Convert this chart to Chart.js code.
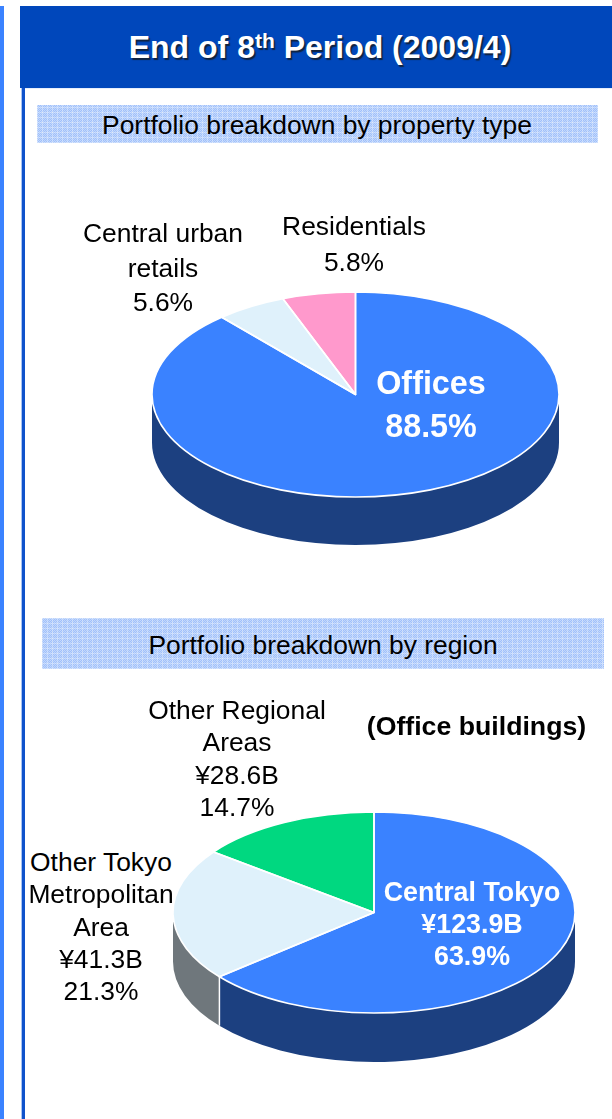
<!DOCTYPE html>
<html>
<head>
<meta charset="utf-8">
<script src="https://cdn.jsdelivr.net/npm/chart.js@4"></script>
<style>
html,body{margin:0;padding:0;background:#fff;width:612px;height:1119px;overflow:hidden}
body{position:relative;font-family:"Liberation Sans",Arial,sans-serif;color:#000}
.abs{position:absolute}
canvas{position:absolute;display:block}
.t{position:absolute;white-space:nowrap;transform:translate(-50%,-50%);line-height:1;z-index:5}
.band{position:absolute;background-color:#b4cefb;
 background-image:repeating-linear-gradient(0deg,rgba(255,255,255,.28) 0 1px,transparent 1px 5px),
 repeating-linear-gradient(90deg,rgba(255,255,255,.28) 0 1px,transparent 1px 5px),
 repeating-conic-gradient(rgba(120,165,250,.35) 0 25%,rgba(255,255,255,.18) 0 50%);
 background-size:auto,auto,2px 2px}
</style>
</head>
<body>
<div class="abs" style="left:0;top:6px;width:4px;height:1113px;background:#3a82ff"></div>
<div class="abs" style="left:21px;top:86px;width:1px;height:1033px;background:#a9c4f2"></div>
<div class="abs" style="left:22px;top:86px;width:3px;height:1033px;background:#0f52cc"></div>
<div class="abs" style="left:20px;top:6px;width:592px;height:82px;background:#0047bb"></div>
<div class="abs" style="left:25px;top:88px;width:587px;height:1px;background:#e6eefc"></div>
<div class="band" style="left:37px;top:105px;width:561px;height:38px"></div>
<div class="band" style="left:42px;top:618px;width:562px;height:51px"></div>
<div class="t" style="left:320px;top:47px;font-size:32px;font-weight:bold;color:#fff;text-shadow:1.5px 1.5px 1px #10233f">End of 8<sup style="font-size:21px;line-height:0;vertical-align:10px">th</sup> Period (2009/4)</div>
<div class="t" style="left:317px;top:125px;font-size:26.4px">Portfolio breakdown by property type</div>
<div class="t" style="left:323px;top:645px;font-size:26.4px">Portfolio breakdown by region</div>
<div class="t" style="left:476.5px;top:726px;font-size:26.7px;font-weight:bold">(Office buildings)</div>

<canvas id="typeChart" width="407" height="409" style="left:152px;top:190px;width:407px;height:409px"></canvas>
<canvas id="regionChart" width="402" height="403" style="left:173px;top:711px;width:402px;height:403px"></canvas>

<script>
// ---- data ----
const typeCategories = ["Offices", "Central urban retails", "Residentials"];
const typeValues = [88.5, 5.6, 5.8];
const typeTopColors = ["#3a82ff", "#dff1fb", "#ff99cc"];
const typeSideColors = ["#1c4080", "#6f777c", "#99567a"];

const regionCategories = ["Central Tokyo", "Other Tokyo Metropolitan Area", "Other Regional Areas"];
const regionValues = [63.9, 21.3, 14.7];
const regionAmounts = ["¥123.9B", "¥41.3B", "¥28.6B"];
const regionTopColors = ["#3a82ff", "#dff1fb", "#00d880"];
const regionSideColors = ["#1c4080", "#6f777c", "#008a52"];

// ---- 3D look: squash the library's arcs to an ellipse and extrude them ----
function sectorPath(ctx, a, k) {
  ctx.beginPath();
  ctx.moveTo(a.x, a.y);
  ctx.ellipse(a.x, a.y, a.outerRadius, a.outerRadius * k, 0, a.startAngle, a.endAngle);
  ctx.closePath();
}
function rimPath(ctx, a, k, d) {
  const r = a.outerRadius;
  const lo = Math.max(a.startAngle, 0), hi = Math.min(a.endAngle, Math.PI);
  if (lo >= hi) return false;
  ctx.beginPath();
  ctx.ellipse(a.x, a.y, r, r * k, 0, lo, hi);
  ctx.ellipse(a.x, a.y + d, r, r * k, 0, hi, lo, true);
  ctx.closePath();
  return true;
}
const tiltPlugin = {
  id: "tilt",
  beforeDatasetDraw(chart, args, opts) {
    const ctx = chart.ctx, arcs = chart.getDatasetMeta(0).data, k = opts.squash, d = opts.depth;
    arcs.forEach((a, i) => {
      ctx.fillStyle = opts.sideColors[i];
      if (rimPath(ctx, a, k, d)) ctx.fill();
    });
    ctx.strokeStyle = "#fff";
    ctx.lineWidth = 1.5;
    arcs.forEach(a => {
      if (Math.sin(a.endAngle) > 0) {
        const px = a.x + a.outerRadius * Math.cos(a.endAngle);
        const py = a.y + a.outerRadius * k * Math.sin(a.endAngle);
        ctx.beginPath();
        ctx.moveTo(px, py);
        ctx.lineTo(px, py + d);
        ctx.stroke();
      }
    });
    const cx = chart.chartArea.left + chart.chartArea.width / 2;
    const cy = chart.chartArea.top + chart.chartArea.height / 2;
    ctx.save();
    ctx.translate(cx, cy);
    ctx.scale(1, k);
    ctx.translate(-cx, -cy);
  },
  afterDatasetDraw(chart, args, opts) {
    const ctx = chart.ctx;
    ctx.restore();
    ctx.strokeStyle = "#fff";
    ctx.lineWidth = 1.6;
    ctx.lineJoin = "round";
    chart.getDatasetMeta(0).data.forEach(a => {
      sectorPath(ctx, a, opts.squash);
      ctx.stroke();
    });
  }
};
function tiltedPie(id, labels, values, top, side, squash, depth) {
  return new Chart(document.getElementById(id), {
    type: "pie",
    data: { labels, datasets: [{ data: values, backgroundColor: top, borderWidth: 0, clip: false }] },
    options: {
      responsive: false,
      animation: false,
      layout: { padding: 0 },
      plugins: {
        legend: { display: false },
        tooltip: { enabled: false },
        tilt: { squash, depth, sideColors: side }
      }
    },
    plugins: [tiltPlugin]
  });
}
tiltedPie("typeChart", typeCategories, typeValues, typeTopColors, typeSideColors, 0.504, 48);
tiltedPie("regionChart", regionCategories, regionValues, regionTopColors, regionSideColors, 0.5, 49);

// ---- labels (real text) ----
function addText(str, x, y, size, color, bold) {
  const el = document.createElement("div");
  el.className = "t";
  el.textContent = str;
  el.style.cssText = `left:${x}px;top:${y}px;font-size:${size}px;color:${color};font-weight:${bold ? "bold" : "normal"}`;
  document.body.appendChild(el);
}
function addBlock(lines, x, y, gap, size, color, bold) {
  lines.forEach((s, i) => addText(s, x, y + i * gap, size, color, bold));
}
addBlock([typeCategories[0], typeValues[0] + "%"], 431, 383, 43, 32.3, "#fff", true);
addBlock(["Central urban", "retails", typeValues[1] + "%"], 163, 233, 34.5, 26.4, "#000", false);
addBlock([typeCategories[2], typeValues[2] + "%"], 354, 226, 36, 26.4, "#000", false);
addBlock([regionCategories[0], regionAmounts[0], regionValues[0] + "%"], 472, 892, 32, 26.8, "#fff", true);
addBlock(["Other Tokyo", "Metropolitan", "Area", regionAmounts[1], regionValues[1] + "%"], 101, 862, 32.3, 26.4, "#000", false);
addBlock(["Other Regional", "Areas", regionAmounts[2], regionValues[2] + "%"], 237, 710, 32.4, 26.4, "#000", false);
</script>
</body>
</html>
